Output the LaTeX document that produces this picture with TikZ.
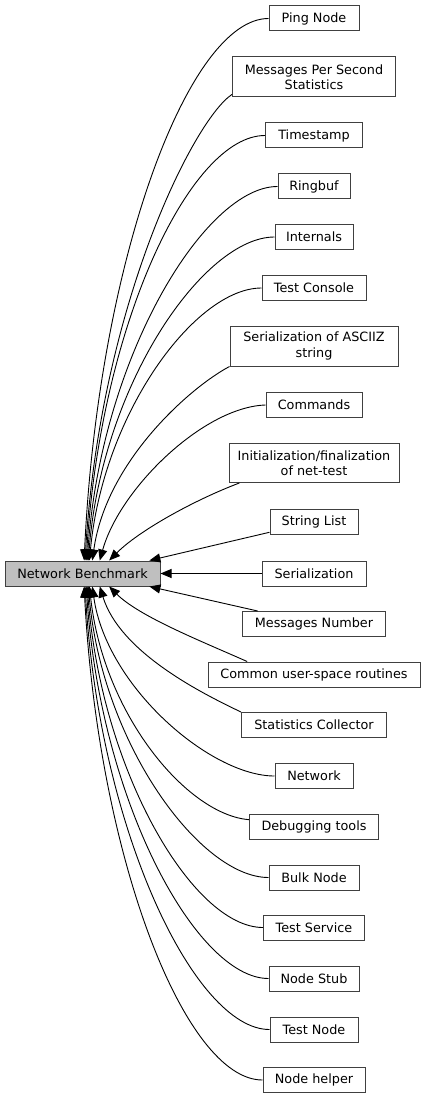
\documentclass[tikz,border=0pt]{standalone}
\usepackage{fontspec}
\setmainfont{DejaVu Sans}
\usetikzlibrary{arrows.meta}

\begin{document}
\begin{tikzpicture}[
  x=1pt, y=-1pt,
  font=\fontsize{12.8}{15.5}\selectfont,
  grp/.style={rectangle, draw=black!75, line width=1pt, inner sep=2pt,
              minimum height=25pt, align=center},
  ar/.style={{Triangle[length=11pt,width=9pt]}-, line width=0.9pt}
]
\useasboundingbox (0,0) rectangle (425,1099);

\node[grp, fill=black!25, minimum width=155pt] (main) at (82.5,573.5) {Network Benchmark};

\node[grp, minimum width=90pt]  (ping)      at (314,18.5)   {Ping Node};
\node[grp, minimum width=163pt, minimum height=40pt] (mps) at (314,77) {Messages Per Second\\Statistics};
\node[grp, minimum width=97pt]  (tstamp)    at (314,135.5)  {Timestamp};
\node[grp, minimum width=72pt]  (ringbuf)   at (314,186.5)  {Ringbuf};
\node[grp, minimum width=78pt]  (internals) at (314,237)    {Internals};
\node[grp, minimum width=104pt] (tconsole)  at (314,288)    {Test Console};
\node[grp, minimum width=168pt, minimum height=40pt] (asciiz) at (314,346) {Serialization of ASCIIZ\\string};
\node[grp, minimum width=96pt]  (commands)  at (314,405)    {Commands};
\node[grp, minimum width=170pt, minimum height=39pt] (init) at (314,463) {Initialization/finalization\\of net-test};
\node[grp, minimum width=88pt]  (strlist)   at (314,522)    {String List};
\node[grp, minimum width=104pt] (serial)    at (314,573.5)  {Serialization};
\node[grp, minimum width=143pt] (msgnum)    at (314,624)    {Messages Number};
\node[grp, minimum width=212pt] (common)    at (314,674.5)  {Common user-space routines};
\node[grp, minimum width=145pt] (statcoll)  at (314,725)    {Statistics Collector};
\node[grp, minimum width=78pt]  (network)   at (314,776)    {Network};
\node[grp, minimum width=129pt] (debug)     at (314,826.5)  {Debugging tools};
\node[grp, minimum width=90pt]  (bulk)      at (314,877.5)  {Bulk Node};
\node[grp, minimum width=101pt] (tservice)  at (314,927.5)  {Test Service};
\node[grp, minimum width=90pt]  (nstub)     at (314,978.5)  {Node Stub};
\node[grp, minimum width=88pt]  (tnode)     at (314,1029.5) {Test Node};
\node[grp, minimum width=102pt] (nhelper)   at (314,1080)   {Node helper};

\draw[ar] (main.83) .. controls +(14,-300) and +(-80,0) .. (ping.west);
\draw[ar] (main.79) .. controls +(15,-255) and +(-38,25) .. (mps.192);
\draw[ar] (main.74) .. controls +(14,-235) and +(-75,0) .. (tstamp.west);
\draw[ar] (main.70) .. controls +(14,-205) and +(-72,0) .. (ringbuf.west);
\draw[ar] (main.66) .. controls +(14,-178) and +(-70,0) .. (internals.west);
\draw[ar] (main.62) .. controls +(14,-148) and +(-66,0) .. (tconsole.west);
\draw[ar] (main.53) .. controls +(14,-100) and +(-38,20) .. (asciiz.south west);
\draw[ar] (main.37) .. controls +(20,-72) and +(-62,2) .. (commands.west);
\draw[ar] (main.26) .. controls +(30,-30) and +(-45,17) .. (init.195);
\draw[ar] (main.11) -- (strlist.193);
\draw[ar] (main.east) -- (serial.west);
\draw[ar] (main.-11) -- (msgnum.167);
\draw[ar] (main.-26) .. controls +(30,30) and +(-45,-20) .. (common.169);
\draw[ar] (main.-37) .. controls +(20,65) and +(-42,-20) .. (statcoll.north west);
\draw[ar] (main.-53) .. controls +(14,100) and +(-64,0) .. (network.west);
\draw[ar] (main.-62) .. controls +(14,128) and +(-62,-5) .. (debug.174);
\draw[ar] (main.-66) .. controls +(14,158) and +(-68,0) .. (bulk.west);
\draw[ar] (main.-70) .. controls +(14,185) and +(-70,0) .. (tservice.west);
\draw[ar] (main.-74) .. controls +(14,215) and +(-72,0) .. (nstub.west);
\draw[ar] (main.-79) .. controls +(14,243) and +(-75,0) .. (tnode.west);
\draw[ar] (main.-83) .. controls +(14,270) and +(-78,0) .. (nhelper.west);
\end{tikzpicture}
\end{document}
